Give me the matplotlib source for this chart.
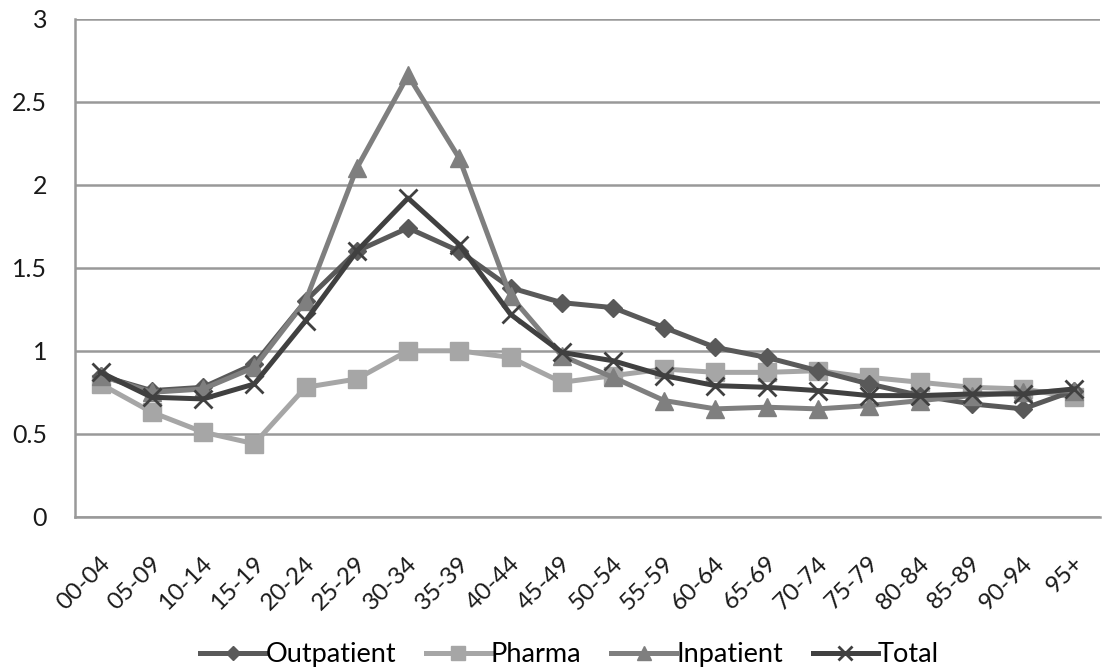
import numpy as np
import matplotlib.pyplot as plt
import matplotlib.transforms as mtransforms

plt.rcParams['font.family'] = ['Lato', 'DejaVu Sans']

# age groups
ages = ["00-04", "05-09", "10-14", "15-19", "20-24", "25-29", "30-34", "35-39",
        "40-44", "45-49", "50-54", "55-59", "60-64", "65-69", "70-74", "75-79",
        "80-84", "85-89", "90-94", "95+"]

outpatient = [0.85, 0.76, 0.78, 0.92, 1.30, 1.60, 1.74, 1.60, 1.38, 1.29,
              1.26, 1.14, 1.02, 0.96, 0.88, 0.80, 0.73, 0.68, 0.65, 0.76]
pharma = [0.80, 0.63, 0.51, 0.44, 0.78, 0.83, 1.00, 1.00, 0.96, 0.81,
          0.85, 0.89, 0.87, 0.87, 0.88, 0.84, 0.81, 0.78, 0.77, 0.72]
inpatient = [0.85, 0.75, 0.77, 0.90, 1.30, 2.10, 2.66, 2.16, 1.33, 0.97,
             0.84, 0.70, 0.65, 0.66, 0.65, 0.67, 0.70, 0.73, 0.75, 0.76]
total = [0.87, 0.72, 0.71, 0.80, 1.18, 1.60, 1.92, 1.64, 1.22, 0.99,
         0.94, 0.85, 0.79, 0.78, 0.76, 0.73, 0.73, 0.74, 0.74, 0.77]

fig = plt.figure(figsize=(11.02, 6.72), dpi=100)
ax = fig.add_axes([0.068, 0.231, 0.930, 0.741])

x = np.arange(len(ages))
ax.plot(x, outpatient, color="#595959", lw=3.6, marker="D", ms=9, label="Outpatient", zorder=3)
ax.plot(x, pharma, color="#a6a6a6", lw=3.6, marker="s", ms=13, label="Pharma", zorder=2)
ax.plot(x, inpatient, color="#7f7f7f", lw=3.6, marker="^", ms=13, label="Inpatient", zorder=4)
ax.plot(x, total, color="#404040", lw=3.6, marker="x", ms=13, mew=2, label="Total", zorder=5)

ax.set_xlim(-0.5, len(ages) - 0.5)
ax.set_ylim(0, 3)
ax.set_yticks(np.arange(0, 3.01, 0.5))
ax.set_yticklabels(["0", "0.5", "1", "1.5", "2", "2.5", "3"])
ax.set_xticks(x)
ax.set_xticklabels(ages, rotation=45, ha="right", va="center", rotation_mode="anchor")
ax.tick_params(axis="y", length=0, pad=20, labelsize=18, labelcolor="#1a1a1a")
ax.tick_params(axis="x", length=0, pad=31, labelsize=17.5, labelcolor="#1a1a1a")

# nudge x labels a bit to the right
shift = mtransforms.ScaledTranslation(6 / 100, 0, fig.dpi_scale_trans)
for lbl in ax.get_xticklabels():
    lbl.set_transform(lbl.get_transform() + shift)

ax.grid(axis="y", color="#999999", lw=1.8)
ax.set_axisbelow(True)
for s in ["top", "right"]:
    ax.spines[s].set_visible(False)
for s in ["left", "bottom"]:
    ax.spines[s].set_color("#999999")
    ax.spines[s].set_linewidth(1.8)

fig.legend(loc="lower center", ncol=4, frameon=False, fontsize=19.5,
           bbox_to_anchor=(0.517, -0.029), handlelength=2.4, columnspacing=1.1,
           handletextpad=0.0, markerscale=0.75)

fig.savefig("out.png", dpi=100)
